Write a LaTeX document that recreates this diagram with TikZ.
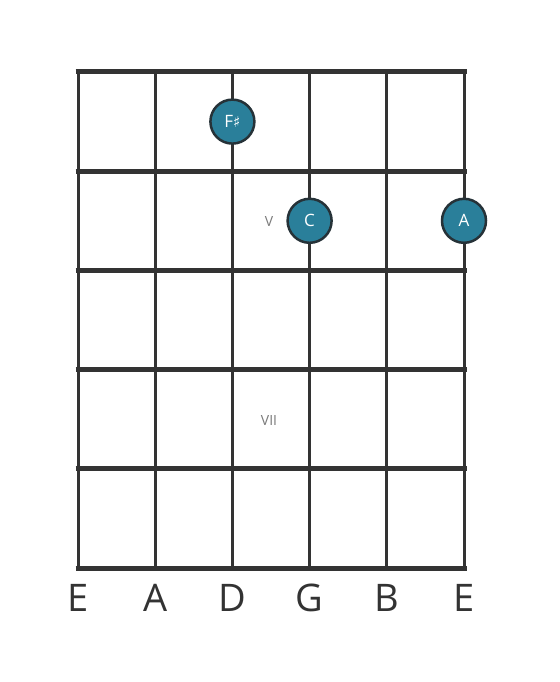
\documentclass[tikz,border=0pt]{standalone}
\usepackage{fontspec}
\setmainfont{Open Sans}
\newfontfamily\symfont{DejaVu Sans}
\usepackage{tikz}
\usetikzlibrary{positioning,calc}
\definecolor{fretgrey}{HTML}{333333}
\definecolor{dotteal}{HTML}{2A7F9A}
\definecolor{dotrim}{HTML}{263238}
\definecolor{labgrey}{HTML}{7A7A7A}
\tikzset{
  notedot/.style={circle, fill=dotteal, draw=dotrim, line width=2.5pt, minimum size=44pt, inner sep=0pt, text=white, font=\fontsize{17}{17}\selectfont},
  strname/.style={text=fretgrey, font=\fontsize{38}{38}\selectfont},
  fretlab/.style={text=labgrey, font=\fontsize{14}{14}\selectfont}
}
\begin{document}
\begin{tikzpicture}[x=1pt, y=-1pt]
\useasboundingbox (0,0) rectangle (559,682);
\fill[white] (0,0) rectangle (559,682);

\foreach \x in {78,155.2,232.4,309.6,386.8,464} \draw[fretgrey, line width=3pt] (\x,72) -- (\x,568);
\foreach \y in {72,171.2,270.4,369.6,468.8,568} \draw[fretgrey, line width=5pt] (75.5,\y) -- (466.5,\y);

\node[fretlab] (lab5) at (269,222) {V};
\node[fretlab] (lab7) at (269,420) {VII};

\node[notedot] (fsharp) at (232.4,121.6) {F{\symfont\fontsize{15}{15}\selectfont ♯}};
\node[notedot] (noteC) at (309.6,220.8) {C};
\node[notedot] (noteA) at (464,220.8) {A};

\foreach \s/\x in {E/78,A/155.2,D/232.4,G/309.6,B/386.8,E/464} \node[strname] (s\x) at (\x,598) {\s};
\end{tikzpicture}
\end{document}
